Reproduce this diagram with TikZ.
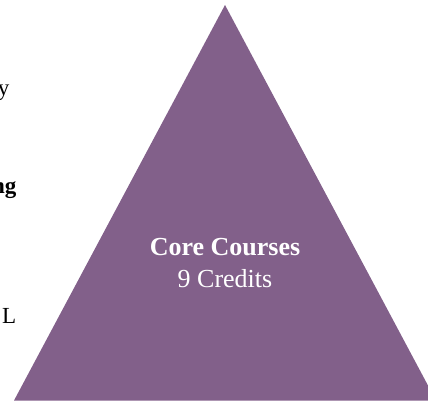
\documentclass[tikz,border=0pt]{standalone}
\usepackage{fontspec}
\setmainfont{Liberation Serif}
\definecolor{tripurple}{RGB}{130,96,138}
\begin{document}
\begin{tikzpicture}[x=1pt,y=1pt,
  lbl/.style={text=white,inner sep=0pt,font=\fontsize{26}{30}\selectfont},
  side/.style={text=black,inner sep=0pt,font=\fontsize{23}{27}\selectfont}]
\useasboundingbox (0,0) rectangle (428,402);
\clip (0,0) rectangle (428,402);
\fill[tripurple] (14,1.5) -- (225,397) -- (436,1.5) -- cycle;
\node[lbl,font=\fontsize{26}{30}\selectfont\bfseries,anchor=base] (core) at (225,147) {Core Courses};
\node[lbl,anchor=base] (credits) at (225,115) {9 Credits};
\node[side,anchor=base east] (fy) at (9.5,306.5) {y};
\node[side,font=\fontsize{23}{27}\selectfont\bfseries,anchor=base east] (fng) at (16.5,208) {ng};
\node[side,anchor=base west] (fl) at (2,79) {L};
\end{tikzpicture}
\end{document}
